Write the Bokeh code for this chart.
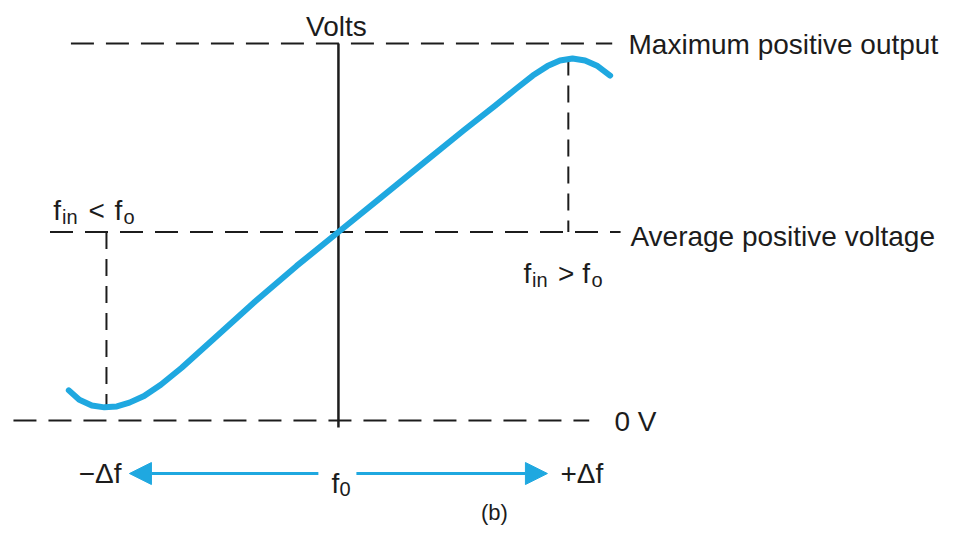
from bokeh.plotting import figure
from bokeh.models import Range1d, Arrow, NormalHead, Label
from bokeh.embed import file_html
from bokeh.resources import INLINE

# ---- data (x: frequency deviation in units of delta-f, y: output level: 0 V = 0, average = 1, max = 2)
curve_f = [-1.29, -1.24, -1.18, -1.12, -1.06, -1.00, -0.93, -0.85, -0.75, -0.60, -0.40, -0.20,
           0.00, 0.20, 0.40, 0.60, 0.75, 0.85, 0.93, 1.00, 1.06, 1.12, 1.18, 1.24, 1.30]
curve_v = [0.16, 0.11, 0.08, 0.07, 0.075, 0.095, 0.13, 0.19, 0.28, 0.43, 0.63, 0.82,
           1.00, 1.18, 1.36, 1.54, 1.67, 1.76, 1.83, 1.88, 1.91, 1.92, 1.91, 1.88, 1.83]

level_names = ["Maximum positive output", "Average positive voltage", "0 V"]
level_v = [2.0, 1.0, 0.0]
level_start = [-1.28, -1.38, -1.555]
level_end = [1.31, 1.35, 1.20]
level_label_x = [1.388, 1.397, 1.321]
level_label_y = [1.995, 0.976, -0.005]

drop_f = [-1.11, 1.10]        # frequencies of curve minimum / maximum
drop_top = [1.0, 1.92]
drop_bottom = [0.07, 1.0]

axis_bottom, axis_top = -0.037, 2.0
arrow_y = -0.281
arrow_inner = [-0.096, 0.086]
arrow_tip = [-1.0, 1.0]

BLUE = "#1fa8e0"
INK = "#1c1c1c"
FONT = "Liberation Sans"

p = figure(width=939, height=526, output_backend="svg", toolbar_location=None,
           x_range=Range1d(-1.617, 2.876), y_range=Range1d(-0.562, 2.228),
           x_axis_location=None, y_axis_location=None, min_border=0)
p.grid.visible = False
p.outline_line_color = None
p.background_fill_color = "white"
p.border_fill_color = "white"

# dashed reference levels
p.segment(x0=level_start, x1=level_end, y0=level_v, y1=level_v,
          line_color=INK, line_width=2, line_dash="23 12")
# dashed drops from extremes
p.segment(x0=drop_f, x1=drop_f, y0=drop_top, y1=drop_bottom,
          line_color=INK, line_width=2, line_dash="17 10")
# vertical volts axis
p.segment(x0=[0], x1=[0], y0=[axis_bottom], y1=[axis_top], line_color=INK, line_width=2.5)

# transfer curve
p.line(curve_f, curve_v, line_color=BLUE, line_width=6, line_cap="round", line_join="round")

# frequency arrows
for xs, xe in zip(arrow_inner, arrow_tip):
    p.add_layout(Arrow(end=NormalHead(size=22, fill_color=BLUE, line_color=BLUE, line_width=1),
                       x_start=xs, y_start=arrow_y, x_end=xe, y_end=arrow_y,
                       line_color=BLUE, line_width=3))

def lab(x, y, text, size="28px", align="left", baseline="middle"):
    p.add_layout(Label(x=x, y=y, text=text, text_font=FONT, text_font_size=size,
                       text_color=INK, text_align=align, text_baseline=baseline))

for name, x, y in zip(level_names, level_label_x, level_label_y):
    lab(x, y, name)

lab(-0.01, 2.09, "Volts", align="center")

# f_in < f_o
lab(-1.364, 1.114, "f", baseline="alphabetic")
lab(-1.323, 1.082, "in", size="20px", baseline="alphabetic")
lab(-1.196, 1.114, "<", baseline="alphabetic")
lab(-1.072, 1.114, "f", baseline="alphabetic")
lab(-1.029, 1.082, "o", size="20px", baseline="alphabetic")

# f_in > f_o
lab(0.885, 0.78, "f", baseline="alphabetic")
lab(0.926, 0.743, "in", size="20px", baseline="alphabetic")
lab(1.050, 0.78, ">", baseline="alphabetic")
lab(1.167, 0.78, "f", baseline="alphabetic")
lab(1.211, 0.743, "o", size="20px", baseline="alphabetic")

# frequency row
lab(-1.038, arrow_y, "\u2212\u0394f", align="right")
lab(-0.033, -0.334, "f", baseline="alphabetic")
lab(0.005, -0.361, "0", size="20px", baseline="alphabetic")
lab(1.062, arrow_y, "+\u0394f")

lab(0.746, -0.488, "(b)", size="22px", align="center")

open("out.html", "w").write(file_html(p, INLINE))
